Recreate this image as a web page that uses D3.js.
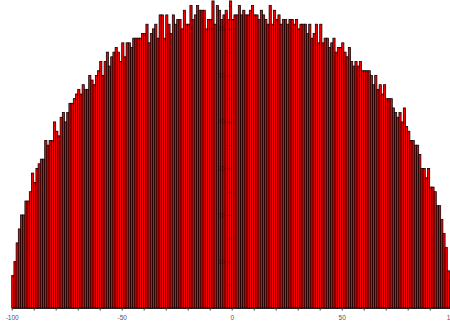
<!DOCTYPE html>
<html>
<head>
<meta charset="utf-8">
<script src="https://cdn.jsdelivr.net/npm/d3@7"></script>
<style>
  html, body { margin: 0; padding: 0; background: #fff; }
  svg { display: block; }
</style>
</head>
<body>
<svg id="chart" width="450" height="326"></svg>
<script>
// Histogram bins: 200 bins of width 1 on [-100, 100]
const binEdgeMin = -100;
const binEdgeMax = 100;
const binStep = 1;

// Count per bin (left to right)
const counts = [
  7, 10, 14, 17, 20, 20, 23, 23, 25, 29,
  27, 30, 31, 32, 32, 36, 35, 36, 36, 40,
  38, 37, 41, 42, 40, 42, 44, 44, 45, 46,
  47, 46, 48, 47, 47, 50, 49, 48, 50, 51,
  53, 50, 53, 55, 52, 54, 55, 56, 55, 53,
  57, 54, 57, 57, 56, 58, 58, 58, 58, 59,
  59, 61, 57, 59, 60, 61, 58, 63, 63, 58,
  63, 61, 59, 63, 61, 62, 62, 60, 64, 61,
  61, 65, 62, 63, 65, 64, 64, 64, 60, 62,
  62, 66, 61, 65, 64, 62, 63, 64, 62, 66,
  62, 63, 63, 65, 63, 64, 63, 63, 64, 65,
  63, 63, 62, 64, 63, 62, 61, 65, 61, 64,
  62, 63, 61, 62, 62, 61, 62, 62, 61, 62,
  60, 61, 61, 61, 59, 61, 58, 59, 61, 57,
  61, 57, 58, 58, 56, 57, 58, 55, 56, 56,
  57, 55, 54, 56, 53, 52, 53, 52, 53, 51,
  51, 51, 51, 50, 48, 50, 47, 48, 46, 48,
  45, 45, 45, 43, 42, 41, 42, 40, 43, 39,
  38, 36, 36, 35, 35, 33, 30, 30, 28, 30,
  26, 26, 25, 22, 22, 19, 16, 13, 8, 6
];

// Tick values
const xTickValues = [-100, -90, -80, -70, -60, -50, -40, -30, -20, -10, 0, 10, 20, 30, 40, 50, 60, 70, 80, 90, 100];
const xLabelValues = [-100, -50, 0, 50, 100];
const yMajorTicks = [10, 20, 30, 40, 50, 60];
const yMinorTicks = [5, 15, 25, 35, 45, 55, 65];

const binStarts = d3.range(binEdgeMin, binEdgeMax, binStep);
const bins = binStarts.map((x0, i) => ({ x0: x0, x1: x0 + binStep, count: counts[i] }));

const svg = d3.select("#chart");

const x = d3.scaleLinear().domain([binEdgeMin, binEdgeMax]).range([11.7, 451.7]);
const y = d3.scaleLinear().domain([0, 66.2]).range([308, 0]);

// Bars
svg.append("g")
  .selectAll("rect")
  .data(bins)
  .join("rect")
  .attr("x", d => x(d.x0))
  .attr("width", d => x(d.x1) - x(d.x0))
  .attr("y", d => y(d.count))
  .attr("height", d => y(0) - y(d.count))
  .attr("fill", "#f00")
  .attr("stroke", "#000")
  .attr("stroke-width", 0.75);

// X axis
const xAxis = svg.append("g")
  .attr("transform", `translate(0,${y(0)})`)
  .call(d3.axisBottom(x)
    .tickValues(xTickValues)
    .tickSize(2.5)
    .tickSizeOuter(0)
    .tickPadding(4.5)
    .tickFormat(d => xLabelValues.includes(d) ? d : ""));
xAxis.select(".domain").attr("stroke", "#222");
xAxis.selectAll(".tick line").attr("stroke", "#444");
xAxis.selectAll("text")
  .attr("font-family", "Liberation Sans, Arial, sans-serif")
  .attr("font-size", 6.5)
  .attr("fill", "#555");

// Y axis (centered at x = 0, drawn over bars faintly)
const yAxisG = svg.append("g")
  .attr("transform", `translate(${x(0)},0)`)
  .attr("opacity", 0.35);
yAxisG.call(d3.axisLeft(y)
  .tickValues(yMajorTicks)
  .tickSize(5)
  .tickSizeOuter(0)
  .tickPadding(2));
yAxisG.select(".domain").remove();
yAxisG.selectAll("text")
  .attr("font-family", "Liberation Sans, Arial, sans-serif")
  .attr("font-size", 6.5)
  .attr("fill", "#000");
yAxisG.append("g")
  .call(d3.axisLeft(y).tickValues(yMinorTicks).tickSize(3).tickFormat(""))
  .select(".domain").remove();
</script>
</body>
</html>
